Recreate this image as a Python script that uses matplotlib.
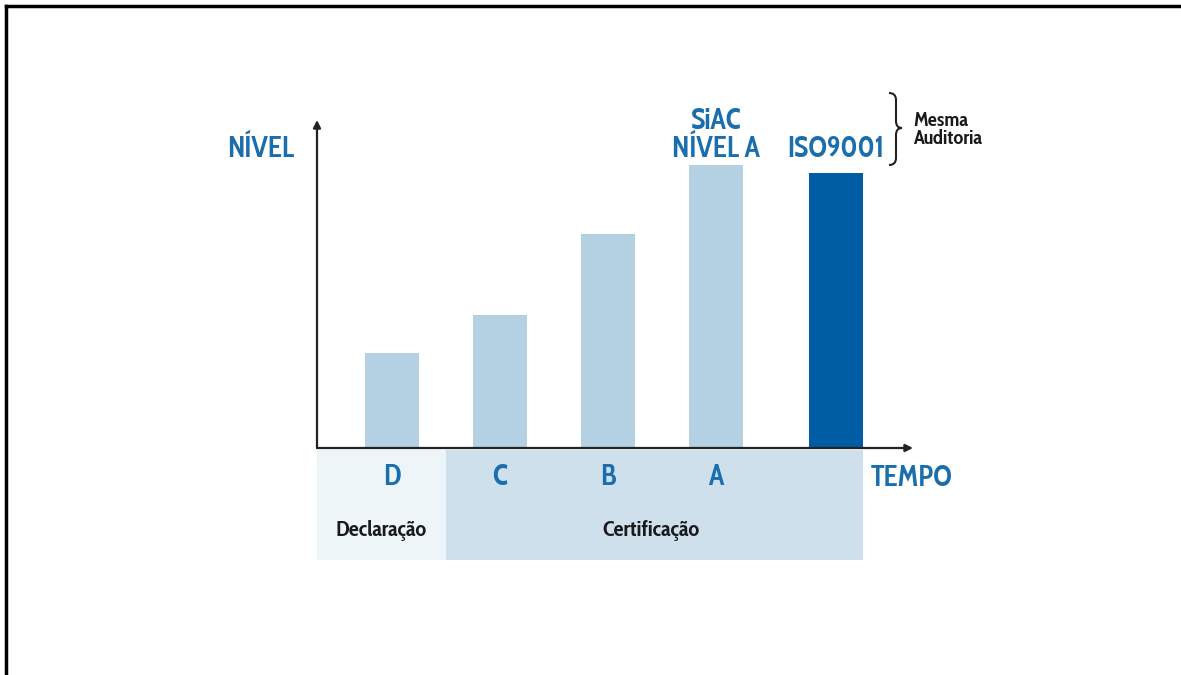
import matplotlib
matplotlib.use("Agg")
import matplotlib.pyplot as plt
from matplotlib.patches import Rectangle, PathPatch
from matplotlib.path import Path

plt.rcParams['font.family'] = ['Cabin Condensed', 'DejaVu Sans']
plt.rcParams['font.stretch'] = 'condensed'

# bar data: position along TEMPO, height in % of the NÍVEL axis
stages = ['D', 'C', 'B', 'A']
stage_pos = [1, 2, 3, 4]
stage_levels = [29, 40.5, 65.2, 86.3]
iso_pos = 5.11
iso_level = 83.8
groups = ['Declaração', 'Certificação']
group_spans = [(0.3056, 1.5), (1.5, 5.36)]

light = '#b3d1e3'
dark = '#005da3'
blue = '#1a6eae'
band_colors = ['#edf5f9', '#cfe0ed']

W, H = 1181, 675
fig = plt.figure(figsize=(W / 100, H / 100), dpi=100)
ax = fig.add_axes([317 / W, 1 - 448 / H, 596 / W, 328 / H])
ax.set_xlim(0.3056, 5.824)
ax.set_ylim(0, 100)
ax.axis('off')

# frame of the picture (left and top only)
fig.add_artist(plt.Line2D([6 / W, 6 / W], [0, 1 - 6 / H], color='black', lw=2.5))
fig.add_artist(plt.Line2D([6 / W, 1], [1 - 6 / H, 1 - 6 / H], color='black', lw=2.5))

ax.bar(stage_pos, stage_levels, width=0.5, color=light, zorder=2)
ax.bar([iso_pos], [iso_level], width=0.5, color=dark, zorder=2)

# background bands under the axis
band_top = -0.6   # just under the axis line
band_h = 110 / 328 * 100
for (x0, x1), c, g in zip(group_spans, band_colors, groups):
    ax.add_patch(Rectangle((x0, band_top - band_h), x1 - x0, band_h,
                           facecolor=c, edgecolor='none', clip_on=False, zorder=1))
    ax.text((x0 + x1) / 2 - (0.03 if g == 'Certificação' else 0), -25.2, g,
            ha='center', va='center', fontsize=16, fontweight='bold',
            color='#1a1a1a', clip_on=False)

for p, s in zip(stage_pos, stages):
    ax.text(p, -9.0, s, ha='center', va='center', fontsize=20.5,
            fontweight='bold', color=blue, clip_on=False)

# axes with arrows
arrow = dict(arrowstyle='-|>', color='#222222', lw=1.6,
             mutation_scale=11, shrinkA=0, shrinkB=0)
ax.annotate('', xy=(1, 0), xytext=(0, 0), xycoords='axes fraction',
            arrowprops=arrow, annotation_clip=False)
ax.annotate('', xy=(0, 1), xytext=(0, 0), xycoords='axes fraction',
            arrowprops=arrow, annotation_clip=False)

ax.text(-0.039, 0.909, 'NÍVEL', transform=ax.transAxes, ha='right', va='center',
        fontsize=20.5, fontweight='bold', color=blue)
ax.text(0.929, -0.092, 'TEMPO', transform=ax.transAxes, ha='left', va='center',
        fontsize=20.5, fontweight='bold', color=blue)

ax.text(stage_pos[-1], 88.8, 'SiAC\nNÍVEL A', ha='center', va='baseline',
        fontsize=20.5, fontweight='bold', color=blue, linespacing=0.95)
ax.text(iso_pos, 88.8, 'ISO9001', ha='center', va='baseline',
        fontsize=20.5, fontweight='bold', color=blue)

# brace for "Mesma Auditoria"
def px(x, y):
    return (x / W, 1 - y / H)

verts = [px(889, 93), px(896, 93), px(896, 100), px(896, 121),
         px(896, 128), px(902, 128), px(896, 128), px(896, 135),
         px(896, 158), px(896, 165), px(889, 165)]
codes = [Path.MOVETO, Path.CURVE3, Path.CURVE3, Path.LINETO,
         Path.CURVE3, Path.CURVE3, Path.CURVE3, Path.CURVE3,
         Path.LINETO, Path.CURVE3, Path.CURVE3]
fig.add_artist(PathPatch(Path(verts, codes), facecolor='none',
                         edgecolor='#222222', lw=1.5, transform=fig.transFigure))
fig.text(913 / W, 1 - 130 / H, 'Mesma\nAuditoria', ha='left', va='center',
         fontsize=14.5, fontweight='bold', color='#1a1a1a', linespacing=0.9)

fig.savefig('out.png', dpi=100)
